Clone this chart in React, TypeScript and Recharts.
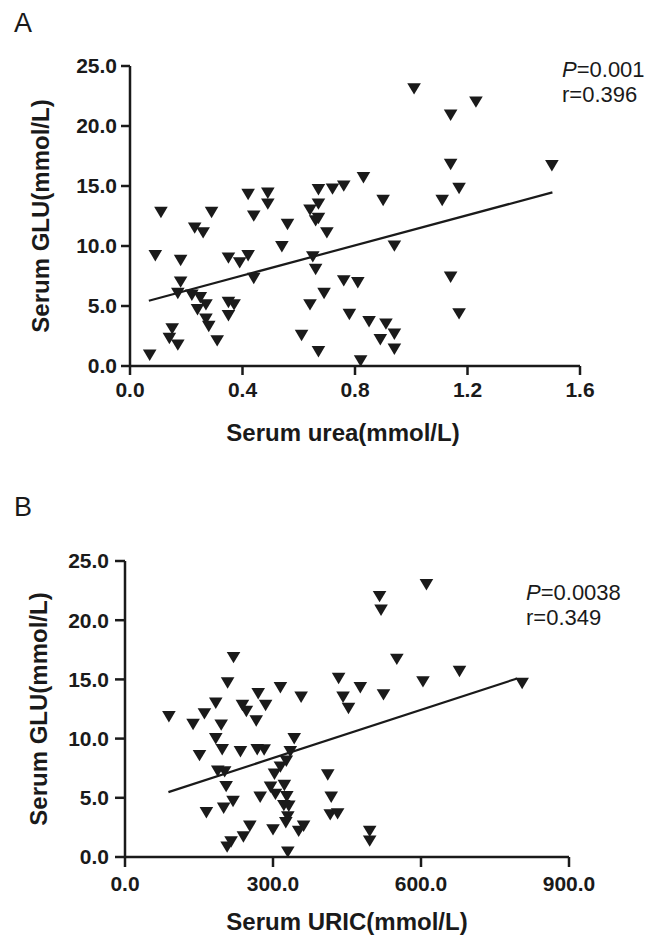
import { ReferenceLine, Scatter, ScatterChart, XAxis, YAxis } from "recharts";

// panel A: serum urea vs GLU
const ureaX = [
  0.07, 0.11, 0.09, 0.18, 0.18, 0.17, 0.22, 0.25, 0.27, 0.24, 0.27, 0.28, 0.31, 0.15, 0.14, 0.17,
  0.23, 0.26, 0.29, 0.35, 0.39, 0.42, 0.44, 0.35, 0.37, 0.35, 0.42, 0.49, 0.49, 0.44, 0.56, 0.54,
  0.61, 0.64, 0.65, 0.66, 0.69, 0.67, 0.64, 0.66, 0.67, 0.7, 0.67, 0.67, 0.72, 0.76, 0.76, 0.78,
  0.81, 1.01, 1.23, 1.14, 1.14, 1.5, 1.17, 1.11, 0.9, 0.83, 0.94, 1.14, 1.17, 0.85, 0.91, 0.94,
  0.89, 0.94, 0.82,
];
const gluA = [
  0.9, 12.8, 9.2, 8.8, 7.0, 6.05, 5.9, 5.7, 5.1, 4.7, 3.9, 3.3, 2.1, 3.1, 2.3, 1.75,
  11.5, 11.1, 12.8, 9.0, 8.6, 9.2, 7.3, 5.3, 5.1, 4.2, 14.3, 14.4, 13.5, 12.5, 11.8, 9.95,
  2.55, 5.1, 9.1, 8.05, 6.05, 1.2, 13.0, 12.1, 12.3, 11.1, 14.7, 13.5, 14.75, 15.0, 7.1, 4.3,
  6.95, 23.1, 22.0, 20.9, 16.8, 16.7, 14.8, 13.8, 13.8, 15.7, 10.0, 7.4, 4.35, 3.7, 3.5, 2.65,
  2.2, 1.4, 0.42,
];
const fitAX = [0.067, 1.502];
const fitAY = [5.44, 14.47];
const ureaTicks = [0, 0.4, 0.8, 1.2, 1.6];

// panel B: serum URIC vs GLU
const uricX = [
  89, 138, 161, 184, 220, 208, 195, 184, 151, 197, 234, 268, 282, 238, 246, 270,
  285, 266, 315, 357, 343, 335, 327, 315, 303, 188, 202, 205, 295, 305, 274, 323,
  328, 322, 332, 330, 326, 219, 200, 165, 253, 240, 215, 207, 300, 352, 362, 330,
  411, 418, 416, 431, 433, 442, 453, 611, 516, 519, 551, 678, 805, 604, 477, 524,
  496, 496,
];
const gluB = [
  11.85, 11.2, 12.1, 13.0, 16.85, 14.7, 11.15, 10.0, 8.57, 9.07, 8.9, 9.07, 9.05, 12.8, 12.3, 13.8,
  12.8, 11.5, 14.3, 13.5, 10.0, 8.9, 8.1, 7.6, 7.0, 7.25, 7.2, 5.95, 5.9, 5.3, 5.05, 6.05,
  5.1, 4.35, 4.3, 3.4, 2.9, 4.7, 4.13, 3.74, 2.6, 1.7, 1.27, 0.84, 2.3, 2.17, 2.6, 0.42,
  6.94, 5.05, 3.57, 3.65, 15.08, 13.5, 12.55, 23.0, 22.0, 20.85, 16.7, 15.67, 14.66, 14.8, 14.3, 13.7,
  2.17, 1.35,
];
const fitBX = [88, 795];
const fitBY = [5.48, 15.08];
const uricTicks = [0, 300, 600, 900];

const gluTicks = [0, 5, 10, 15, 20, 25];

const INK = "#1a1a1a";
const FONT = '"Liberation Sans", Arial, sans-serif';

const zip = (xs: number[], ys: number[]) => xs.map((x, i) => ({ x, y: ys[i] }));

const DownTriangle = (props: any) => {
  const { cx, cy } = props;
  if (cx == null || cy == null) return null;
  return <path d={`M${cx - 6.8},${cy - 5.6}L${cx + 6.8},${cy - 5.6}L${cx},${cy + 5.8}Z`} fill={INK} />;
};

const tickStyle = { fontSize: 21, fontWeight: 700, fontFamily: FONT, fill: INK };
const titleStyle = { fontSize: 24, fontWeight: 700, fontFamily: FONT, fill: INK };

type PanelProps = {
  data: { x: number; y: number }[];
  fit: { x: number; y: number }[];
  xTicks: number[];
  xTitle: string;
  top: number;
  height: number;
  margin: { top: number; right: number; bottom: number; left: number };
  yWidth: number;
  xHeight: number;
  tickSize: number;
  xTickMargin: number;
  yTickMargin: number;
  xLabelOffset: number;
  xLabelShift: number;
  yLabelOffset: number;
};

function Panel(p: PanelProps) {
  const xMax = p.xTicks[p.xTicks.length - 1];
  return (
    <div style={{ position: "absolute", left: 0, top: p.top }}>
      <ScatterChart width={654} height={p.height} margin={p.margin}>
        <XAxis
          type="number"
          dataKey="x"
          domain={[0, xMax]}
          ticks={p.xTicks}
          tickFormatter={(v: number) => v.toFixed(1)}
          height={p.xHeight}
          tickSize={p.tickSize}
          tickMargin={p.xTickMargin}
          tick={tickStyle}
          axisLine={{ stroke: INK, strokeWidth: 2.5 }}
          tickLine={{ stroke: INK, strokeWidth: 2.5 }}
          label={{
            value: p.xTitle,
            position: "insideBottom",
            offset: p.xLabelOffset,
            dx: p.xLabelShift,
            style: titleStyle,
          }}
        />
        <YAxis
          type="number"
          dataKey="y"
          domain={[0, 25]}
          ticks={gluTicks}
          tickFormatter={(v: number) => v.toFixed(1)}
          width={p.yWidth}
          tickSize={p.tickSize}
          tickMargin={p.yTickMargin}
          tick={tickStyle}
          axisLine={{ stroke: INK, strokeWidth: 2.5 }}
          tickLine={{ stroke: INK, strokeWidth: 2.5 }}
          label={{
            value: "Serum GLU(mmol/L)",
            angle: -90,
            position: "insideLeft",
            offset: p.yLabelOffset,
            style: { ...titleStyle, textAnchor: "middle" },
          }}
        />
        <Scatter data={p.data} shape={DownTriangle} isAnimationActive={false} />
        <ReferenceLine segment={p.fit} stroke={INK} strokeWidth={2.2} ifOverflow="visible" />
      </ScatterChart>
    </div>
  );
}

export default function App() {
  return (
    <div style={{ position: "absolute", left: 0, top: 0, width: 654, height: 938, background: "#fff", fontFamily: FONT }}>
      <Panel
        data={zip(ureaX, gluA)}
        fit={zip(fitAX, fitAY)}
        xTicks={ureaTicks}
        xTitle="Serum urea(mmol/L)"
        top={0}
        height={460}
        margin={{ top: 66, right: 74, bottom: 4, left: 20 }}
        yWidth={110}
        xHeight={90}
        tickSize={9}
        xTickMargin={7}
        yTickMargin={4}
        xLabelOffset={15}
        xLabelShift={-12}
        yLabelOffset={20}
      />
      <Panel
        data={zip(uricX, gluB)}
        fit={zip(fitBX, fitBY)}
        xTicks={uricTicks}
        xTitle="Serum URIC(mmol/L)"
        top={480}
        height={458}
        margin={{ top: 81, right: 85, bottom: 0, left: 20 }}
        yWidth={105}
        xHeight={81}
        tickSize={10}
        xTickMargin={9}
        yTickMargin={6}
        xLabelOffset={8}
        xLabelShift={0}
        yLabelOffset={18}
      />
      <svg width={654} height={938} style={{ position: "absolute", left: 0, top: 0, pointerEvents: "none" }}>
        <g fontFamily={FONT} fill={INK}>
          <text x={14} y={32} fontSize={27}>A</text>
          <text x={14} y={516} fontSize={27}>B</text>
          <text x={562} y={77} fontSize={22}>
            <tspan fontStyle="italic">P</tspan>=0.001
          </text>
          <text x={562} y={102} fontSize={22}>r=0.396</text>
          <text x={526} y={600} fontSize={22}>
            <tspan fontStyle="italic">P</tspan>=0.0038
          </text>
          <text x={526} y={625} fontSize={22}>r=0.349</text>
        </g>
      </svg>
    </div>
  );
}
